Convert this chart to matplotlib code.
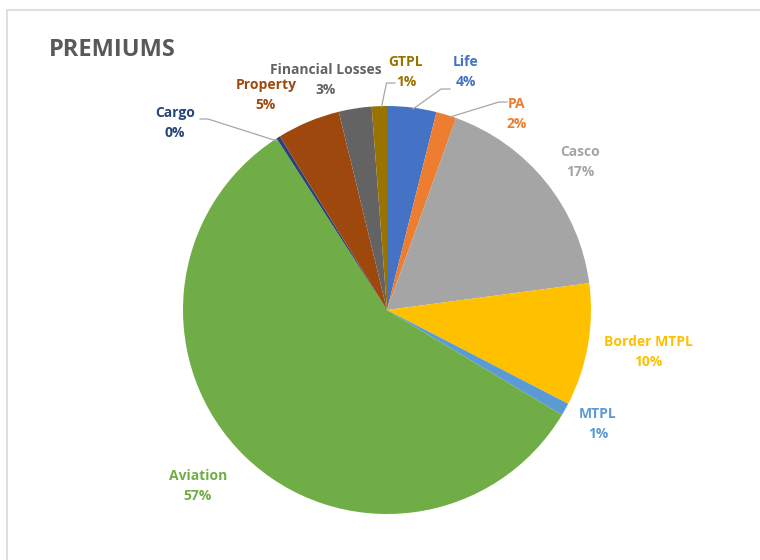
import matplotlib
matplotlib.use("Agg")
import matplotlib.pyplot as plt
import numpy as np
from matplotlib.patches import Rectangle

categories = ["Life", "PA", "Casco", "Border MTPL", "MTPL", "Aviation",
              "Cargo", "Property", "Financial Losses", "GTPL"]
shares = [3.9, 1.6, 17.4, 9.7, 1.0, 57.3, 0.3, 5.0, 2.6, 1.2]
colors = ["#4472C4", "#ED7D31", "#A5A5A5", "#FFC000", "#5B9BD5",
          "#70AD47", "#264478", "#9E480E", "#636363", "#997300"]
label_colors = ["#4472C4", "#ED7D31", "#A5A5A5", "#FFC000", "#5B9BD5",
                "#70AD47", "#264478", "#9E480E", "#636363", "#997300"]

W, H = 760, 560
plt.rcParams['font.family'] = ['Open Sans', 'DejaVu Sans']
fig = plt.figure(figsize=(W / 100, H / 100), dpi=100)
ax = fig.add_axes([0, 0, 1, 1])

cx, cy, r = 387, H - 310, 204
wedges, _ = ax.pie(shares, colors=colors, startangle=90, counterclock=False,
                   center=(cx, cy), radius=r,
                   wedgeprops=dict(linewidth=0))
ax.set_xlim(0, W)
ax.set_ylim(0, H)
ax.set_aspect('equal')
ax.axis('off')

# chart border
ax.add_patch(Rectangle((7, -20), W + 40, (H - 10) + 20, fill=False,
                       edgecolor="#D9D9D9", linewidth=1.2))

ax.text(49, H - 50, "PREMIUMS", fontsize=17, fontweight='bold',
        color="#595959", ha='left', va='center')

# label positions (pixel coords, top-origin) and optional leader lines
label_pos = {
    "Life": (466, 72),
    "PA": (517, 114),
    "Casco": (580, 162),
    "Border MTPL": (648, 352),
    "MTPL": (598, 424),
    "Aviation": (198, 486),
    "Cargo": (175, 123),
    "Property": (266, 95),
    "Financial Losses": (326, 80),
    "GTPL": (406, 72),
}
leaders = {
    "Life": [(413, 109), (441, 89), (450, 89)],
    "PA": [(450, 117), (499, 102), (507, 102)],
    "GTPL": [(381.5, 107), (386.5, 83), (395, 83)],
    "Cargo": [(277, 141), (208, 119), (200, 119)],
}

total = sum(shares)
for cat, val, lc in zip(categories, shares, label_colors):
    x, y = label_pos[cat]
    pct = int(np.floor(val / total * 100 + 0.5))
    ax.text(x, H - (y - 10), cat, ha='center', va='center',
            fontsize=10, fontweight='bold', color=lc)
    ax.text(x, H - (y + 10), f"{pct}%", ha='center', va='center',
            fontsize=10, fontweight='bold', color=lc)
    if cat in leaders:
        pts = leaders[cat]
        ax.plot([p[0] for p in pts], [H - p[1] for p in pts],
                color="#A6A6A6", linewidth=0.9)

fig.savefig("out.png", dpi=100, facecolor="white")
